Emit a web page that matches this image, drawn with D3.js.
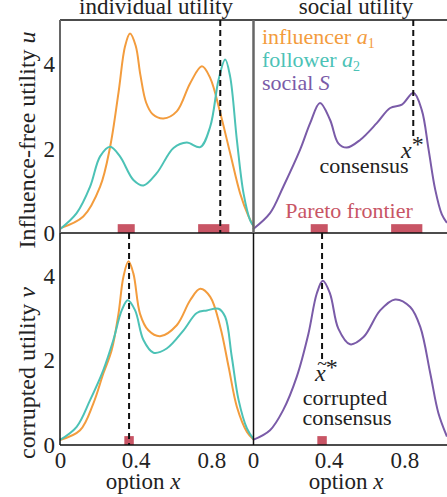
<!DOCTYPE html>
<html>
<head>
<meta charset="utf-8">
<script src="https://cdn.jsdelivr.net/npm/d3@7"></script>
<style>
  body { margin: 0; background: #fff; }
  svg text { font-family: "Liberation Serif", "Times New Roman", Times, "DejaVu Serif", serif !important; }
</style>
</head>
<body>
<script>
// ---- data ----
var xTicks = [0, 0.4, 0.8],
    yTicks = [0, 2, 4];

// influence-free utility u (top left)
var influencerU = [[0,0.11],[0.123,0.39],[0.212,1.10],[0.265,2.05],[0.309,3.33],[0.344,4.44],[0.370,4.74],
  [0.400,4.45],[0.425,3.75],[0.455,3.1],[0.49,2.82],[0.547,2.72],[0.617,2.89],[0.688,3.56],[0.750,3.96],
  [0.794,3.68],[0.847,2.85],[0.899,1.90],[0.952,0.94],[0.996,0.40],[1.023,0.16]];
var followerU = [[0,0.09],[0.088,0.47],[0.159,1.10],[0.212,1.82],[0.265,2.05],[0.317,1.82],[0.388,1.26],
  [0.441,1.13],[0.511,1.42],[0.600,2.02],[0.670,2.15],[0.741,2.04],[0.794,2.53],[0.838,3.64],[0.873,4.12],
  [0.899,3.72],[0.935,2.2],[0.970,0.94],[1.005,0.30],[1.023,0.17]];
// social utility S (top right)
var socialU = [[0,0.09],[0.090,0.47],[0.160,1.10],[0.249,1.98],[0.302,2.61],[0.354,3.09],[0.407,2.69],
  [0.451,2.13],[0.496,2.03],[0.566,2.21],[0.654,2.61],[0.725,2.97],[0.787,3.05],[0.848,3.33],[0.892,2.92],
  [0.928,1.98],[0.963,1.03],[0.998,0.44],[1.025,0.24]];

// corrupted utility v (bottom left)
var influencerV = [[0,0.12],[0.106,0.35],[0.176,0.98],[0.229,1.69],[0.273,2.24],[0.309,3.1],[0.335,3.97],
  [0.362,4.34],[0.388,4.05],[0.423,3.1],[0.467,2.71],[0.529,2.57],[0.617,2.83],[0.688,3.42],[0.741,3.69],
  [0.794,3.5],[0.847,2.79],[0.891,1.85],[0.935,0.9],[0.988,0.31],[1.023,0.13]];
var followerV = [[0,0.12],[0.088,0.43],[0.159,1.06],[0.229,1.77],[0.282,2.48],[0.326,3.18],[0.358,3.42],
  [0.397,3.18],[0.441,2.48],[0.494,2.18],[0.564,2.28],[0.653,2.71],[0.723,3.12],[0.776,3.18],[0.838,3.22],
  [0.873,3.03],[0.908,2.08],[0.944,1.06],[0.988,0.39],[1.023,0.14]];
var socialV = [[0,0.12],[0.090,0.35],[0.160,0.83],[0.231,1.61],[0.293,2.63],[0.337,3.58],[0.369,3.88],
  [0.407,3.58],[0.451,2.75],[0.513,2.38],[0.584,2.55],[0.672,3.18],[0.751,3.44],[0.831,3.26],[0.884,2.79],
  [0.937,1.69],[0.980,0.75],[1.025,0.2]];

var consensus = 0.847,      // x*
    corruptedConsensus = 0.365; // x~*
var paretoU = [[0.305, 0.395], [0.73, 0.895]],
    paretoV = [[0.34, 0.39]];
var paretoH = 0.21;

var cOrange = "#f39c3d", cTeal = "#4cc2b6", cPurple = "#7a5ba8", cRed = "#c85565";
var serif = "'Liberation Serif', 'Times New Roman', Times, 'DejaVu Serif', serif";

// ---- layout ----
var W = 447, H = 497;
var svg = d3.select("body").append("svg").attr("width", W).attr("height", H);

var xL = d3.scaleLinear().domain([0, 1.02]).range([60, 253]),
    xR = d3.scaleLinear().domain([0, 1.02]).range([253, 446]);
var yT = d3.scaleLinear().domain([0, 5.06]).range([233, 20]),
    yB = d3.scaleLinear().domain([0, 5.01]).range([445, 233]);

function curve(g, data, xs, ys, color) {
  var line = d3.line()
    .x(function(d) { return xs(d[0]); })
    .y(function(d) { return ys(d[1]); })
    .curve(d3.curveCatmullRom.alpha(0.5));
  g.append("path").datum(data)
    .attr("d", line)
    .attr("fill", "none")
    .attr("stroke", color)
    .attr("stroke-width", 2);
}

function pareto(g, spans, xs, ys) {
  g.selectAll(null).data(spans).enter().append("rect")
    .attr("x", function(d) { return xs(d[0]); })
    .attr("width", function(d) { return xs(d[1]) - xs(d[0]); })
    .attr("y", ys(paretoH))
    .attr("height", ys(0) - ys(paretoH))
    .attr("fill", cRed);
}

function dashed(g, x, y1, y2) {
  g.append("line")
    .attr("x1", x).attr("x2", x).attr("y1", y1).attr("y2", y2)
    .attr("stroke", "#111").attr("stroke-width", 2)
    .attr("stroke-dasharray", "6,4");
}

function yAxis(ys) {
  svg.append("g")
    .attr("transform", "translate(60,0)")
    .attr("font-family", serif)
    .call(d3.axisLeft(ys).tickValues(yTicks).tickSize(0).tickPadding(5).tickFormat(d3.format("d")))
    .call(function(g) { g.select(".domain").remove(); })
    .selectAll("text")
    .attr("font-size", 23).attr("fill", "#222")
    .style("font-family", serif);
}

function xAxis(xs) {
  svg.append("g")
    .attr("transform", "translate(0,445)")
    .attr("font-family", serif)
    .call(d3.axisBottom(xs).tickValues(xTicks).tickSize(0).tickPadding(7)
      .tickFormat(function(d) { return d === 0 ? "0" : d3.format(".1f")(d); }))
    .call(function(g) { g.select(".domain").remove(); })
    .selectAll("text")
    .attr("font-size", 23).attr("fill", "#222")
    .style("font-family", serif);
}

var g = svg.append("g");

// pareto frontier bars (behind curves)
pareto(g, paretoU, xL, yT);
pareto(g, paretoU, xR, yT);
pareto(g, paretoV, xL, yB);
pareto(g, paretoV, xR, yB);

// curves
curve(g, influencerU, xL, yT, cOrange);
curve(g, followerU, xL, yT, cTeal);
curve(g, socialU, xR, yT, cPurple);
curve(g, influencerV, xL, yB, cOrange);
curve(g, followerV, xL, yB, cTeal);
curve(g, socialV, xR, yB, cPurple);

// consensus markers
dashed(g, xL(consensus), yT.range()[1], yT(0));
dashed(g, xR(consensus), yT.range()[1], yT(2.3));
dashed(g, xL(corruptedConsensus), yB.range()[1], yB(0));
dashed(g, xR(corruptedConsensus), yB.range()[1], yB(2.0));

// frame
var frame = svg.append("g").attr("fill", "none");
frame.append("line").attr("x1", 60).attr("x2", W).attr("y1", 20).attr("y2", 20)
  .attr("stroke", "#111").attr("stroke-width", 1.5);
frame.append("line").attr("x1", 60).attr("x2", W).attr("y1", 233).attr("y2", 233)
  .attr("stroke", "#111").attr("stroke-width", 1.5);
frame.append("line").attr("x1", 60).attr("x2", W).attr("y1", 445).attr("y2", 445)
  .attr("stroke", "#111").attr("stroke-width", 1.5);
frame.append("line").attr("x1", 60).attr("x2", 60).attr("y1", 20).attr("y2", 233)
  .attr("stroke", "#666").attr("stroke-width", 2);
frame.append("line").attr("x1", 60).attr("x2", 60).attr("y1", 233).attr("y2", 445)
  .attr("stroke", "#111").attr("stroke-width", 1.5);
frame.append("line").attr("x1", 253.5).attr("x2", 253.5).attr("y1", 20).attr("y2", 233)
  .attr("stroke", "#666").attr("stroke-width", 2.5);
frame.append("line").attr("x1", 253.5).attr("x2", 253.5).attr("y1", 233).attr("y2", 445)
  .attr("stroke", "#111").attr("stroke-width", 1.5);

// axes
yAxis(yT);
yAxis(yB);
xAxis(xL);
xAxis(xR);

// ---- text ----
function label(x, y, opts) {
  opts = opts || {};
  var t = svg.append("text")
    .attr("x", x).attr("y", y)
    .attr("font-size", opts.size || 22)
    .attr("text-anchor", opts.anchor || "start")
    .style("font-family", serif)
    .style("fill", opts.color || "#222");
  if (opts.rotate) t.attr("transform", "rotate(-90," + x + "," + y + ")");
  return t;
}

label(156, 14, { anchor: "middle", size: 23 }).text("individual utility");
label(356, 14, { anchor: "middle", size: 23 }).text("social utility");

var t1 = label(262, 44, { color: cOrange });
t1.append("tspan").text("influencer ");
t1.append("tspan").attr("font-style", "italic").text("a");
t1.append("tspan").attr("font-size", 14).attr("dy", 4).text("1");
var t2 = label(262, 67, { color: cTeal });
t2.append("tspan").text("follower ");
t2.append("tspan").attr("font-style", "italic").text("a");
t2.append("tspan").attr("font-size", 14).attr("dy", 4).text("2");
var t3 = label(262, 90, { color: cPurple });
t3.append("tspan").text("social ");
t3.append("tspan").attr("font-style", "italic").text("S");

var xs1 = label(401, 158, { size: 24 });
xs1.append("tspan").attr("font-style", "italic").text("x");
xs1.append("tspan").attr("dy", -6).text("*");
label(364, 173, { anchor: "middle" }).text("consensus");
label(349, 218, { anchor: "middle", color: cRed }).text("Pareto frontier");

var xs2 = label(315, 381, { size: 24 });
xs2.append("tspan").attr("font-style", "italic").text("x");
xs2.append("tspan").attr("dy", -6).text("*");
label(322, 370, { anchor: "middle", size: 18 }).text("~");
label(345, 405, { anchor: "middle" }).text("corrupted");
label(347, 425, { anchor: "middle" }).text("consensus");

var ox1 = label(143, 489, { anchor: "middle", size: 23 });
ox1.append("tspan").text("option ");
ox1.append("tspan").attr("font-style", "italic").text("x");
var ox2 = label(346, 489, { anchor: "middle", size: 23 });
ox2.append("tspan").text("option ");
ox2.append("tspan").attr("font-style", "italic").text("x");

var yl1 = label(35, 140, { anchor: "middle", size: 24, rotate: true });
yl1.append("tspan").text("Influence-free utility ");
yl1.append("tspan").attr("font-style", "italic").text("u");
var yl2 = label(35, 373, { anchor: "middle", size: 24, rotate: true });
yl2.append("tspan").text("corrupted utility ");
yl2.append("tspan").attr("font-style", "italic").text("v");
</script>
</body>
</html>
